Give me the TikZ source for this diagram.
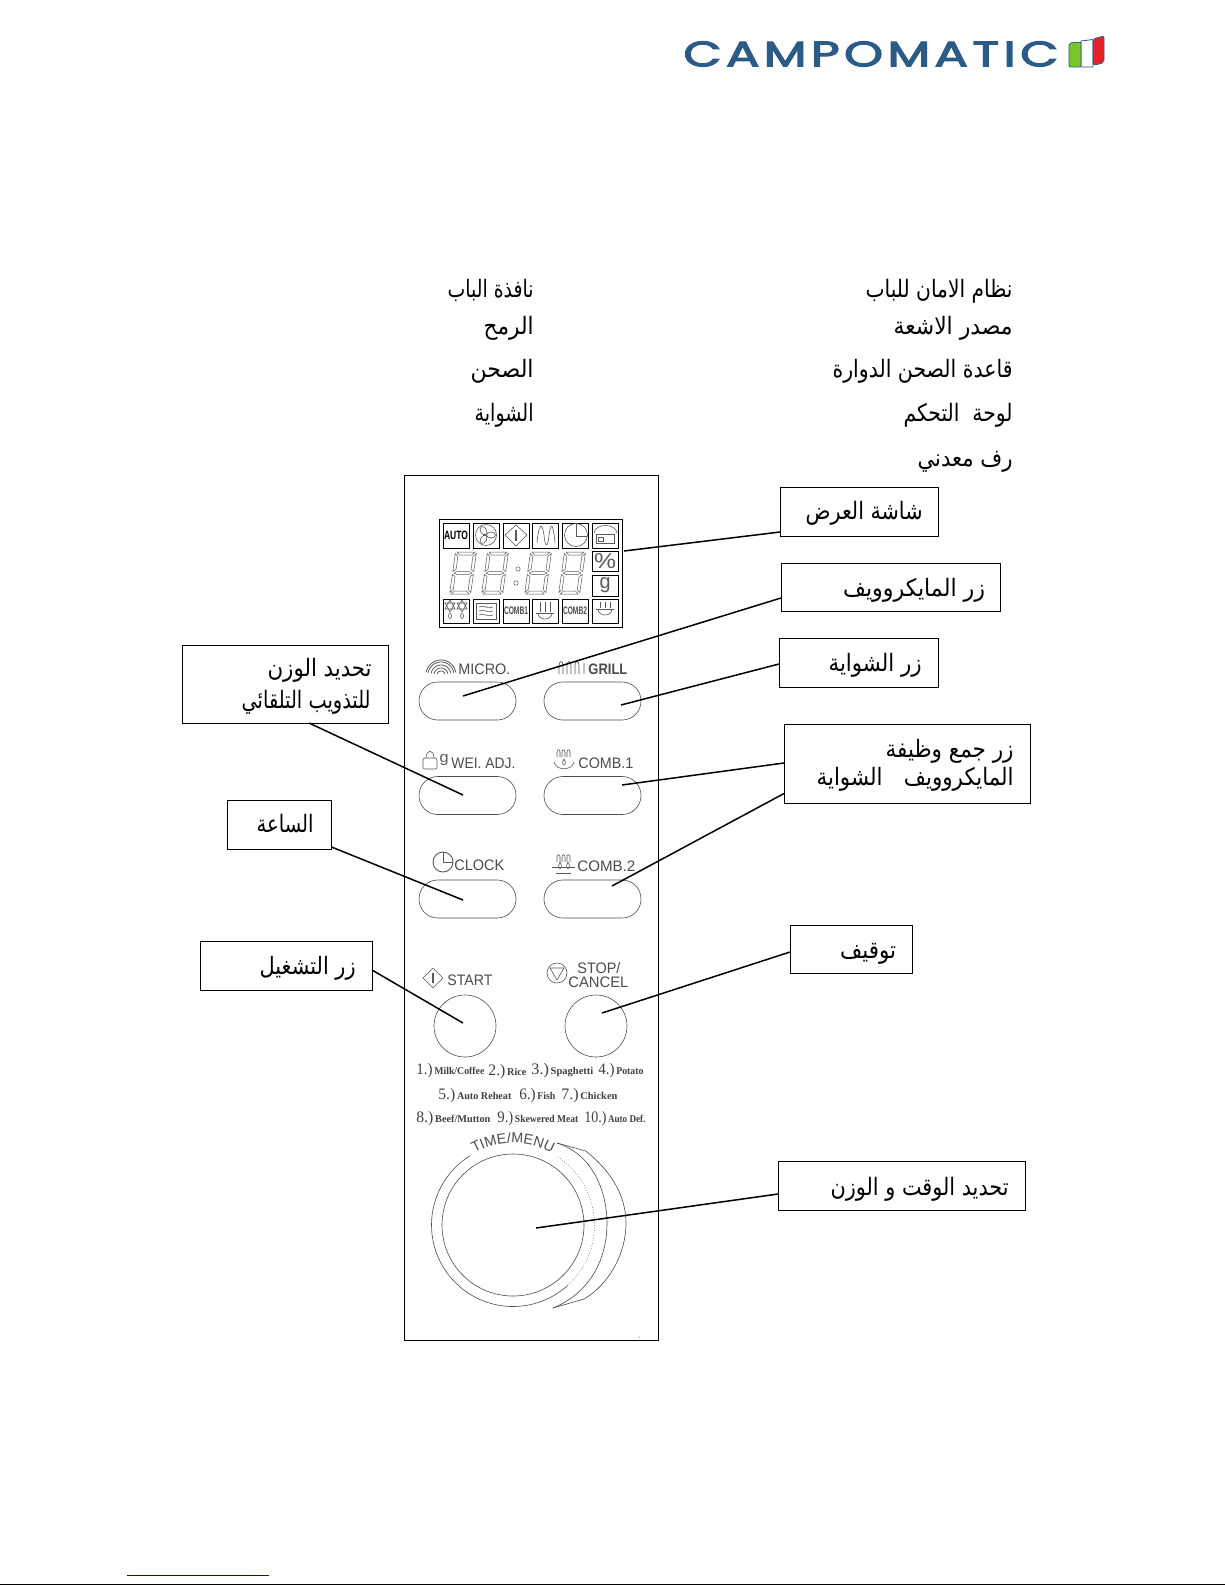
\documentclass[tikz,border=0pt]{standalone}
\usepackage{fontspec}
\usepackage{graphicx}
\usetikzlibrary{decorations.text}
\TeXXeTstate=1
\setmainfont{Liberation Sans}
\newfontfamily\arabicfont[Script=Arabic]{DejaVu Sans}
\newfontfamily\logofont[LetterSpace=9,FakeBold=3]{Poppins}
\newfontfamily\listfont{Liberation Serif}
\newdimen\pxu \pxu=0.5pt
\definecolor{logoblue}{HTML}{2A5C87}
\definecolor{icon}{gray}{0.35}
\definecolor{ptext}{gray}{0.3}
\tikzset{
  x=0.5pt,y=-0.5pt,
  conn/.style={draw=black,line width=0.75pt},
  pbox/.style={draw=black,line width=0.45pt,inner sep=0pt,fill=white},
  artxt/.style={anchor=base east,inner sep=0pt,text=black},
  btn/.style={draw=black!70,line width=0.3pt,rounded corners=9.4pt,inner sep=0pt,minimum width=48.5pt,minimum height=19pt},
  rbtn/.style={draw=black!70,line width=0.3pt,circle,inner sep=0pt,minimum size=31pt},
  cell/.style={draw=black,line width=0.35pt,inner sep=0pt,minimum width=13pt,minimum height=12.5pt},
  ic/.style={draw=icon,line width=0.3pt},
  dialline/.style={draw=black!70,line width=0.3pt},
  ptxt/.style={anchor=base west,inner sep=0pt,text=ptext},
  ltxt/.style={anchor=base west,inner sep=0pt,text=black!75},
  seg/.style={draw=black!65,line width=0.25pt,fill=white},
}
\newcommand\boxnode[5]{\node[pbox,minimum width={(#4-#2)*0.5pt},minimum height={(#5-#3)*0.5pt}] (#1) at ({(#2+#4)/2},{(#3+#5)/2}) {};}
% name, right x, baseline y, width, text
\newcommand\artext[5]{\node[artxt] (#1) at (#2,#3) {\resizebox{#4\pxu}{\height}{\fontsize{12}{14}\arabicfont #5}};}
% name, left x, baseline y, width, text
\newcommand\pt[5]{\node[ptxt] (#1) at (#2,#3) {\resizebox{#4\pxu}{\height}{\fontsize{7.6}{9}\selectfont #5}};}
\newcommand\li[6]{\node[ltxt] (#1) at (#2,#3) {\resizebox{#4\pxu}{\height}{\listfont\fontsize{5.2}{6}\selectfont\bfseries{\fontsize{8}{8}\selectfont\mdseries #5}\,#6}};}
\newcommand\digit[2]{\begin{scope}[shift={(#1,#2)},xslant=0.14]
  \filldraw[seg] (3,0)--(21,0)--(18,3)--(6,3)--cycle;
  \filldraw[seg] (3,21)--(6,19.5)--(18,19.5)--(21,21)--(18,22.5)--(6,22.5)--cycle;
  \filldraw[seg] (6,39)--(18,39)--(21,42)--(3,42)--cycle;
  \filldraw[seg] (1.5,1.5)--(4.5,4.5)--(4.5,17.5)--(1.5,19.5)--cycle;
  \filldraw[seg] (22.5,1.5)--(19.5,4.5)--(19.5,17.5)--(22.5,19.5)--cycle;
  \filldraw[seg] (1.5,22.5)--(4.5,24.5)--(4.5,37.5)--(1.5,40.5)--cycle;
  \filldraw[seg] (22.5,22.5)--(19.5,24.5)--(19.5,37.5)--(22.5,40.5)--cycle;
\end{scope}}
\newcommand\hexa[2]{\draw[ic] (#1,#2-6)--(#1+5,#2+3)--(#1-5,#2+3)--cycle (#1,#2+6)--(#1+5,#2-3)--(#1-5,#2-3)--cycle;
  \draw[ic] (#1,#2+10) ellipse[x radius=1.5,y radius=2.5];}
\newcommand\bowl[4]{\draw[ic] (#1-9,#2) -- (#1+9,#2);
  \draw[ic] (#1-7,#2) .. controls (#1-7,#2+8) and (#1+7,#2+8) .. (#1+7,#2);
  \draw[ic,#4] (#1-5,#2-1) -- (#1-5,#3) (#1,#2-1) -- (#1,#3) (#1+5,#2-1) -- (#1+5,#3);}
\newcommand\topwave[2]{\draw[ic] (#1-7,#2+7) -- (#1-7,#2+2) .. controls (#1-7,#2-1) and (#1-4,#2-1) .. (#1-4,#2+2) -- (#1-4,#2+7)
  (#1-2,#2+7) -- (#1-2,#2+2) .. controls (#1-2,#2-1) and (#1+1,#2-1) .. (#1+1,#2+2) -- (#1+1,#2+7)
  (#1+3,#2+7) -- (#1+3,#2+2) .. controls (#1+3,#2-1) and (#1+6,#2-1) .. (#1+6,#2+2) -- (#1+6,#2+7);}
\begin{document}
\begin{tikzpicture}
\useasboundingbox (0,0) rectangle (1225,1585);
\fill[white] (0,0) rectangle (1225,1585);

% logo
\node[anchor=south west,inner sep=0pt,text=logoblue] (logo) at (683,67) {\resizebox{375\pxu}{25\pxu}{\logofont CAMPOMATIC}};
\draw[logoblue,line width=0.4pt,fill=white] (1081,41) -- (1093,39.5) -- (1093,67) -- (1081,67) -- cycle;
\fill[rounded corners=1pt,draw=logoblue,line width=0.4pt,fill={rgb,255:red,122;green,197;blue,44}] (1069,43) -- (1081,42) -- (1081,67) -- (1069,67) -- cycle;
\fill[rounded corners=1pt,draw=logoblue,line width=0.4pt,fill={rgb,255:red,232;green,32;blue,42}] (1093,39) -- (1104,36) -- (1104,62) -- (1100,64) -- (1093,65) -- cycle;

% top list
\artext{tr1}{1013}{297}{147}{\beginR نظام الامان للباب\endR}
\artext{tr2}{1013}{334}{119}{\beginR مصدر الاشعة\endR}
\artext{tr3}{1013}{377}{180}{\beginR قاعدة الصحن الدوارة\endR}
\artext{tr4}{1013}{421}{109}{\beginR لوحة\ \ التحكم\endR}
\artext{tr5}{1013}{466}{95}{\beginR رف معدني\endR}
\artext{tl1}{534}{297}{86}{\beginR نافذة الباب\endR}
\artext{tl2}{534}{334}{50}{\beginR الرمح\endR}
\artext{tl3}{534}{377}{63}{\beginR الصحن\endR}
\artext{tl4}{534}{421}{59}{\beginR الشواية\endR}

% panel
\draw[black,line width=0.4pt] (404,475) rectangle (658,1340);
\fill[black] (639,1337) circle[radius=0.5];

% LCD
\node[draw=black,line width=0.5pt,inner sep=0pt,minimum width=91.5pt,minimum height=54pt] (lcd) at (530.5,573) {};
\foreach \cx/\n in {456/a,486/b,516/c,545/d,575/e,605/f}{
  \node[cell] (top\n) at (\cx,535.5) {};
  \node[cell,minimum height=12pt] (bot\n) at (\cx,611) {};
}
\node[cell,minimum height=10pt] (pct) at (605,561) {\resizebox{22\pxu}{15\pxu}{\color{icon}\%}};
\node[cell,minimum height=10.5pt] (gr) at (605,585.5) {\resizebox{11\pxu}{11\pxu}{\color{icon}g}};
\node[inner sep=0pt] (auto) at (456,535.5) {\resizebox{24\pxu}{\height}{\fontsize{6}{6}\selectfont\bfseries AUTO}};
\draw[ic] (486,535) circle[radius=10.5];
\foreach \a in {90,210,330}{\draw[ic,rotate around={\a:(486,535)}] (486,540) ellipse[x radius=3,y radius=4.5];}
\draw[ic] (516,525)--(527,535)--(516,546)--(505,535)--cycle;
\draw[ic,line width=0.6pt] (516,530)--(516,541);
\draw[ic] (537,543) .. controls (539,522) and (542,522) .. (544,535) .. controls (545,548) and (548,548) .. (549,535) .. controls (551,522) and (553,522) .. (555,543);
\draw[ic] (576,535) circle[radius=11.5];
\draw[ic] (576,524)--(576,536)--(587,536);
\draw[ic] (594,533) .. controls (595,523) and (616,523) .. (617,533);
\draw[ic] (596,534) rectangle (614,543);
\draw[ic] (598,537) rectangle (603,541);
\digit{454}{552}
\digit{486}{552}
\digit{529}{552}
\digit{563}{552}
\fill[white,draw=black!65,line width=0.25pt] (518,569) circle[radius=2.2] (516,583) circle[radius=2.2];
\hexa{450}{606}
\hexa{462}{606}
\draw[ic] (476,603) rectangle (496,619);
\foreach \yy in {607,611,615}{\draw[ic] (479,\yy) .. controls (484,\yy-3) and (488,\yy+3) .. (493,\yy);}
\node[inner sep=0pt] (cb1) at (516,611) {\resizebox{24\pxu}{\height}{\fontsize{5.5}{6}\selectfont\bfseries\color{ptext} COMB1}};
\bowl{545}{613}{602}{}
\node[inner sep=0pt] (cb2) at (575,611) {\resizebox{24\pxu}{\height}{\fontsize{5.5}{6}\selectfont\bfseries\color{ptext} COMB2}};
\bowl{605}{609}{601}{densely dashed}

% buttons
\node[btn] (bmicro) at (467.5,701) {};
\node[btn] (bgrill) at (592.5,701) {};
\node[btn] (bwei) at (467.5,795.5) {};
\node[btn] (bcomb1) at (592.5,795.5) {};
\node[btn] (bclock) at (467.5,899) {};
\node[btn] (bcomb2) at (592.5,899) {};
\node[rbtn] (bstart) at (465,1026) {};
\node[rbtn] (bstop) at (596,1026) {};

% button labels and icons
\foreach \r in {4,7,10,13,15}{\draw[ic,line width=0.4pt] plot[domain=190:350,samples=20] ({441+\r*cos(\x)},{675+\r*sin(\x)});}
\pt{lmicro}{458}{674}{52}{MICRO.}
\draw[ic] (559,674)--(559,666) .. controls (559,660) and (563,660) .. (563,666)--(563,674) (567,674)--(567,666) .. controls (567,660) and (571,660) .. (571,666)--(571,674) (575,674)--(575,666) .. controls (575,660) and (579,660) .. (579,666)--(579,674) (584,674)--(584,663);
\pt{lgrill}{588}{674}{39}{\textbf{GRILL}}
\draw[ic,rounded corners=1pt] (423,758) rectangle (437,769);
\draw[ic] (426,758) .. controls (426,749) and (434,749) .. (434,758);
\node[inner sep=0pt,text=icon] (lg) at (444,760) {\resizebox{9\pxu}{8\pxu}{g}};
\pt{lwei}{451}{768}{64}{WEI. ADJ.}
\topwave{564}{750}
\draw[ic] (564,759) .. controls (559,767) and (569,767) .. (564,759);
\draw[ic] (554,762) .. controls (556,771) and (572,771) .. (574,762);
\pt{lcomb1}{578}{768}{55}{COMB.1}
\draw[ic,line width=0.45pt] (443,862) circle[radius=10];
\draw[ic,line width=0.45pt] (443,852)--(443,862)--(453,862);
\pt{lclock}{454}{870}{50}{CLOCK}
\topwave{564}{855}
\draw[ic] (560,862) .. controls (555,871) and (565,871) .. (560,862) (568,862) .. controls (563,871) and (573,871) .. (568,862);
\draw[ic] (552,867)--(575,867) (556,873)--(571,873);
\pt{lcomb2}{577}{871}{58}{COMB.2}
\draw[ic] (433,968)--(443,978)--(433,988)--(423,978)--cycle;
\draw[ic,line width=0.7pt] (433,973)--(433,983);
\pt{lstart}{447}{985}{45}{START}
\draw[ic] (557,973) circle[radius=10];
\draw[ic] (550,968)--(564,968)--(557,980)--cycle;
\pt{lstop}{577}{973}{43}{STOP/}
\pt{lcancel}{568}{987}{60}{CANCEL}

% program list
\li{m1}{416}{1074}{68}{1.)}{Milk/Coffee}
\li{m2}{488}{1075}{38}{2.)}{Rice}
\li{m3}{531}{1074}{62}{3.)}{Spaghetti}
\li{m4}{598}{1074}{45}{4.)}{Potato}
\li{m5}{438}{1099}{73}{5.)}{Auto Reheat}
\li{m6}{519}{1099}{36}{6.)}{Fish}
\li{m7}{561}{1099}{56}{7.)}{Chicken}
\li{m8}{416}{1122}{74}{8.)}{Beef/Mutton}
\li{m9}{497}{1122}{81}{9.)}{Skewered Meat}
\li{m10}{584}{1122}{61}{10.)}{Auto Def.}

% dial
\node[dialline,circle,inner sep=0pt,minimum size=71pt] (dial) at (513,1225) {};
\draw[dialline] plot[domain=122:312,samples=70] ({513+81.5*cos(\x)},{1225-81.5*sin(\x)});
\draw[black!70,line width=0.3pt,densely dotted] plot[domain=-48:58,samples=50] ({513+81.5*cos(\x)},{1225-81.5*sin(\x)});
\draw[dialline] (557,1143) .. controls (595,1155) and (607,1195) .. (607,1223) .. controls (607,1265) and (585,1295) .. (553,1308);
\draw[dialline] (557,1143) -- (585.7,1151) .. controls (610,1170) and (626,1195) .. (626,1223) .. controls (626,1255) and (608,1285) .. (584,1299) -- (553,1308);
\path[decorate,decoration={text along path,text align=center,text color=ptext,text={|\fontsize{7.2}{8}\selectfont|TIME/MENU}}] (471,1155) .. controls (495,1139) and (531,1139) .. (555,1155);

% label boxes
\boxnode{bxlcd}{780}{487}{938}{536}
\boxnode{bxmicro}{781}{563}{1000.5}{611}
\boxnode{bxgrill}{779}{638}{938}{687}
\boxnode{bxcomb}{784}{724}{1030}{803}
\boxnode{bxtime}{778}{1161}{1025}{1210}
\boxnode{bxstop}{790}{925}{912}{973}
\boxnode{bxwei}{182}{645}{388}{723}
\boxnode{bxclock}{227}{800}{331.5}{849}
\boxnode{bxstart}{200}{941}{372}{990}
\artext{txlcd}{923}{519}{117}{\beginR شاشة العرض\endR}
\artext{txmicro}{985.5}{596}{142}{\beginR زر المايكروويف\endR}
\artext{txgrill}{922}{671}{93}{\beginR زر الشواية\endR}
\artext{txcomba}{1014}{757}{128}{\beginR زر جمع وظيفة\endR}
\artext{txcombb}{1014}{785}{197}{\beginR المايكروويف\quad الشواية\endR}
\artext{txtime}{1009}{1195}{178}{\beginR تحديد الوقت و الوزن\endR}
\artext{txstop}{896.5}{958}{56}{\beginR توقيف\endR}
\artext{txweia}{372}{676}{104}{\beginR تحديد الوزن\endR}
\artext{txweib}{371}{708}{129}{\beginR للتذويب التلقائي\endR}
\artext{txclock}{314}{832}{57}{\beginR الساعة\endR}
\artext{txstart}{356}{974}{96}{\beginR زر التشغيل\endR}

% connectors
\coordinate (plcd) at (624,551);   \coordinate (elcd) at (780,532);
\coordinate (pmicro) at (463,696); \coordinate (emicro) at (781,598);
\coordinate (pgrill) at (621,705); \coordinate (egrill) at (779,664);
\coordinate (pwei) at (463,795);   \coordinate (ewei) at (309,723);
\coordinate (pcomb1) at (622,785); \coordinate (ecomb1) at (784,763);
\coordinate (pcomb2) at (612,886); \coordinate (ecomb2) at (784,793.5);
\coordinate (pclock) at (463,900); \coordinate (eclock) at (331.5,847);
\coordinate (pstart) at (463,1023);\coordinate (estart) at (372,970);
\coordinate (pstop) at (602,1013); \coordinate (estop) at (790,952);
\coordinate (ptime) at (536,1228); \coordinate (etime) at (778,1194);
\foreach \n in {lcd,micro,grill,wei,comb1,comb2,clock,start,stop,time}{\draw[conn] (p\n) -- (e\n);}

% page foot
\draw[draw={rgb,255:red,0;green,0;blue,204},line width=0.5pt] (127,1575) -- (269,1575);
\draw[black,line width=0.5pt] (0,1584) -- (1225,1584);
\end{tikzpicture}
\end{document}
